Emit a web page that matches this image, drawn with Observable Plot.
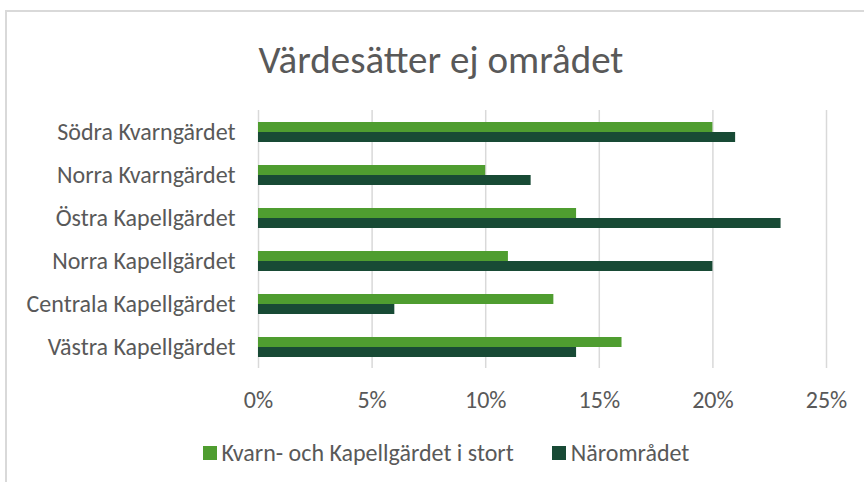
<!DOCTYPE html>
<html>
<head>
<meta charset="utf-8">
<script src="https://cdn.jsdelivr.net/npm/d3@7"></script>
<script src="https://cdn.jsdelivr.net/npm/@observablehq/plot@0.6"></script>
<style>
  html, body { margin: 0; padding: 0; background: #fff; overflow: hidden; }
  body { width: 864px; height: 482px; position: relative;
         font-family: Carlito, "Liberation Sans Narrow", "Open Sans", sans-serif; color: #595959; }
  #frame { position: absolute; left: 5px; top: 10px; width: 859px; height: 472px;
           border-top: 2px solid #d9d9d9; border-left: 2px solid #d9d9d9; box-sizing: border-box; }
  #title { position: absolute; left: 0; width: 882px; top: 36px; text-align: center;
           font-size: 39px; line-height: 48px; }
  #chart { position: absolute; left: 0; top: 0; }
  #legend { position: absolute; left: 0; width: 892px; top: 438px; text-align: center; font-size: 24px; line-height: 28px; white-space: nowrap; }
  .item { display: inline-flex; align-items: center; margin: 0 19px; }
  .sw { width: 14px; height: 14px; display: inline-block; margin-right: 5px; }
</style>
</head>
<body>
<div id="frame"></div>
<div id="title">Värdesätter ej området</div>
<div id="chart"></div>
<div id="legend"></div>
<script>
const categories = ["Södra Kvarngärdet", "Norra Kvarngärdet", "Östra Kapellgärdet", "Norra Kapellgärdet", "Centrala Kapellgärdet", "Västra Kapellgärdet"];
const seriesNames = ["Kvarn- och Kapellgärdet i stort", "Närområdet"];
const seriesColors = ["#4f9d30", "#184a35"];
const kvarnKapell = [0.20, 0.10, 0.14, 0.11, 0.13, 0.16];
const naromradet = [0.21, 0.12, 0.23, 0.20, 0.06, 0.14];
const xTicks = [0, 0.05, 0.10, 0.15, 0.20, 0.25];

const data = [];
categories.forEach((c, i) => {
  data.push({category: c, series: seriesNames[0], value: kvarnKapell[i]});
  data.push({category: c, series: seriesNames[1], value: naromradet[i]});
});

const font = 'Carlito, "Liberation Sans Narrow", "Open Sans", sans-serif';

const plot = Plot.plot({
  width: 864,
  height: 482,
  marginLeft: 258,
  marginRight: 38,
  marginTop: 110,
  marginBottom: 114,
  style: {fontFamily: font, fontSize: "24px", color: "#595959", background: "transparent", overflow: "visible"},
  x: {domain: [0, 0.25], ticks: xTicks, tickFormat: d3.format(".0%"), label: null},
  y: {domain: seriesNames, axis: null, paddingInner: 0, paddingOuter: 0.955},
  fy: {domain: categories, padding: 0, label: null},
  color: {domain: seriesNames, range: seriesColors},
  marks: [
    Plot.gridX(xTicks, {stroke: "#d9d9d9", strokeOpacity: 1, strokeWidth: 1.5}),
    Plot.barX(data, {x: "value", y: "series", fy: "category", fill: "series", inset: 0}),
    Plot.axisX({ticks: xTicks, tickFormat: d3.format(".0%"), tickSize: 0, tickPadding: 22, fontSize: 24, fill: "#595959", facetAnchor: "bottom"}),
    Plot.axisFy({anchor: "left", tickSize: 0, tickPadding: 23, fontSize: 24, fill: "#595959", label: null})
  ]
});
document.getElementById("chart").appendChild(plot);

const legend = document.getElementById("legend");
seriesNames.forEach((s, i) => {
  const item = document.createElement("span");
  item.className = "item";
  const sw = document.createElement("span");
  sw.className = "sw";
  sw.style.background = seriesColors[i];
  item.appendChild(sw);
  item.appendChild(document.createTextNode(s));
  legend.appendChild(item);
});
</script>
</body>
</html>
